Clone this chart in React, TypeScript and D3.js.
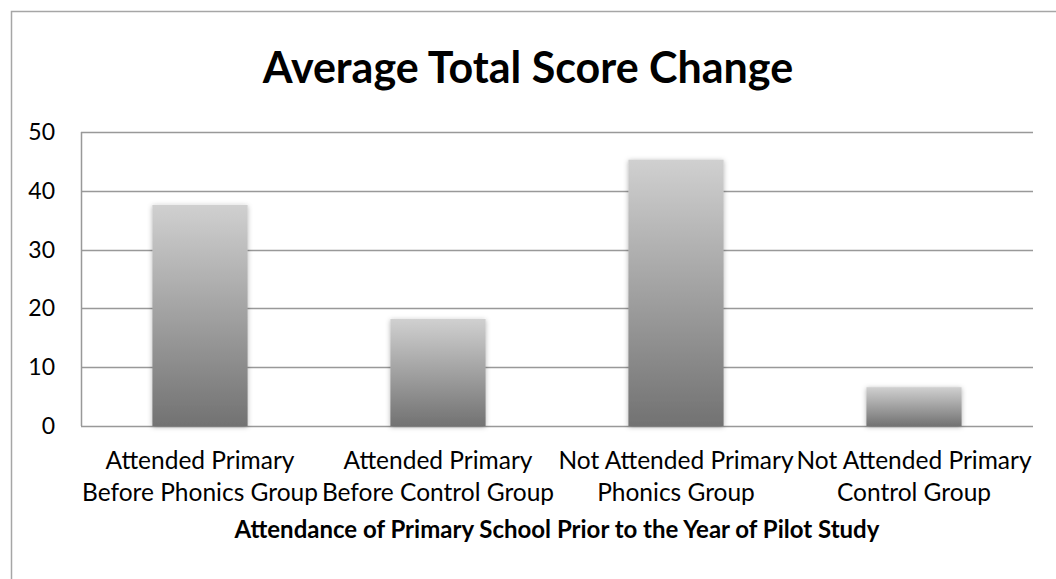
import React, { useRef, useEffect } from "react";
import * as d3 from "d3";

const categories = [
  ["Attended Primary", "Before Phonics Group"],
  ["Attended Primary", "Before Control Group"],
  ["Not Attended Primary", "Phonics Group"],
  ["Not Attended Primary", "Control Group"],
];
const values = [37.6, 18.2, 45.3, 6.6];
const yTicks = [0, 10, 20, 30, 40, 50];

const title = "Average Total Score Change";
const xTitle = "Attendance of Primary School Prior to the Year of Pilot Study";

const App = () => {
  const ref = useRef<SVGSVGElement>(null);

  useEffect(() => {
    const svg = d3.select(ref.current);
    svg.selectAll("*").remove();

    const W = 1056;
    const H = 579;
    const margin = { top: 132, right: 23, bottom: 153, left: 81 };
    const width = W - margin.left - margin.right;
    const height = H - margin.top - margin.bottom;
    const font = "Lato, 'Open Sans', sans-serif";

    svg.attr("width", W).attr("height", H);

    const defs = svg.append("defs");
    const grad = defs
      .append("linearGradient")
      .attr("id", "barGrad")
      .attr("x1", 0)
      .attr("y1", 0)
      .attr("x2", 0)
      .attr("y2", 1);
    grad.append("stop").attr("offset", "0%").attr("stop-color", "#d0d0d0");
    grad.append("stop").attr("offset", "100%").attr("stop-color", "#727272");

    const shadow = defs
      .append("filter")
      .attr("id", "shadow")
      .attr("x", "-20%")
      .attr("y", "-20%")
      .attr("width", "140%")
      .attr("height", "140%");
    shadow
      .append("feDropShadow")
      .attr("dx", 0)
      .attr("dy", 1)
      .attr("stdDeviation", 2.5)
      .attr("flood-color", "#000")
      .attr("flood-opacity", 0.3);

    // chart frame (right and bottom edges fall outside the picture)
    svg
      .append("rect")
      .attr("x", 11.5)
      .attr("y", 11.5)
      .attr("width", 1200)
      .attr("height", 800)
      .attr("fill", "#fff")
      .attr("stroke", "#a6a6a6")
      .attr("stroke-width", 1.5);

    svg
      .append("text")
      .attr("x", 528)
      .attr("y", 83)
      .attr("text-anchor", "middle")
      .attr("font-family", font)
      .attr("font-weight", "bold")
      .attr("font-size", 43)
      .attr("fill", "#000")
      .text(title);

    const g = svg
      .append("g")
      .attr("transform", `translate(${margin.left},${margin.top})`);

    const x = d3
      .scaleBand()
      .domain(categories.map((d, i) => String(i)))
      .range([0, width])
      .paddingInner(0.6)
      .paddingOuter(0.3);
    const y = d3.scaleLinear().domain([0, 50]).range([height, 0]);

    // gridlines
    g.selectAll(".grid")
      .data(yTicks)
      .enter()
      .append("line")
      .attr("x1", 0)
      .attr("x2", width)
      .attr("y1", (d) => Math.round(y(d)) + 0.5)
      .attr("y2", (d) => Math.round(y(d)) + 0.5)
      .attr("stroke", "#999")
      .attr("stroke-width", 1.5);

    g.append("line")
      .attr("x1", 0.5)
      .attr("x2", 0.5)
      .attr("y1", 0)
      .attr("y2", height)
      .attr("stroke", "#999")
      .attr("stroke-width", 1.5);

    g.selectAll(".ytick")
      .data(yTicks)
      .enter()
      .append("text")
      .attr("x", -26)
      .attr("y", (d) => y(d) + 8)
      .attr("text-anchor", "end")
      .attr("font-family", font)
      .attr("font-size", 23)
      .attr("fill", "#000")
      .text((d) => d);

    g.selectAll(".bar")
      .data(values)
      .enter()
      .append("rect")
      .attr("x", (d, i) => x(String(i)))
      .attr("y", (d) => y(d))
      .attr("width", x.bandwidth())
      .attr("height", (d) => height - y(d))
      .attr("fill", "url(#barGrad)")
      .attr("filter", "url(#shadow)");

    const labels = g
      .selectAll(".xlab")
      .data(categories)
      .enter()
      .append("text")
      .attr("text-anchor", "middle")
      .attr("font-family", font)
      .attr("font-size", 24.5)
      .attr("fill", "#000");
    labels
      .selectAll("tspan")
      .data((d, i) => d.map((t) => ({ t, i })))
      .enter()
      .append("tspan")
      .attr("x", (d) => x(String(d.i)) + x.bandwidth() / 2)
      .attr("y", (d, j) => height + 43 + j * 32)
      .text((d) => d.t);

    g.append("text")
      .attr("x", width / 2)
      .attr("y", height + 112)
      .attr("text-anchor", "middle")
      .attr("font-family", font)
      .attr("font-weight", "bold")
      .attr("font-size", 24)
      .attr("fill", "#000")
      .text(xTitle);
  }, []);

  return (
    <div style={{ position: "absolute", left: 0, top: 0 }}>
      <svg ref={ref} style={{ display: "block" }} />
    </div>
  );
};

export default App;
